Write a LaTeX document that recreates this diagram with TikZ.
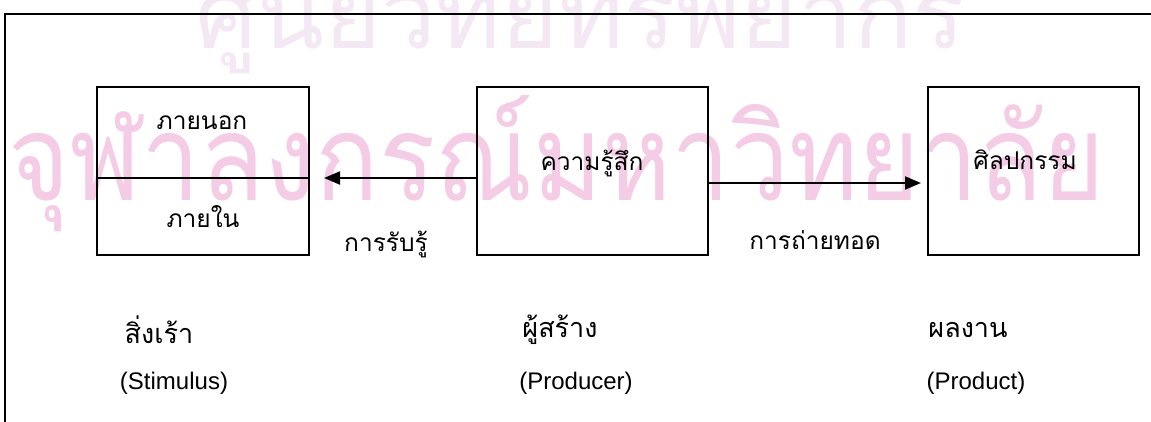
\documentclass[tikz,border=0pt]{standalone}
\usepackage{fontspec}
\usepackage{graphicx}
\setmainfont{Liberation Sans}
\newfontfamily\thai[Script=Thai]{Loma}
\usetikzlibrary{arrows.meta}
\definecolor{wmpink}{RGB}{244,204,230}
\definecolor{wmlight}{RGB}{245,232,245}
\tikzset{
  box/.style={draw, line width=2pt, minimum height=168pt, inner sep=0pt},
  arr/.style={line width=2pt, -{Triangle[length=16pt,width=13pt]}},
  lbl/.style={inner sep=0pt, font=\thai\fontsize{24.5}{24.5}\selectfont},
  th/.style={inner sep=0pt, font=\thai\fontsize{27}{27}\selectfont},
  en/.style={inner sep=0pt, font=\fontsize{24}{24}\selectfont},
  wm/.style={inner sep=0pt, anchor=base west}
}
\begin{document}
\begin{tikzpicture}[x=1pt,y=-1pt]
\useasboundingbox (0,0) rectangle (1151,421);
\clip (0,0) rectangle (1151,421);
% watermark
\node[wm, text=wmlight] (wmtop) at (195,48) {\resizebox{770pt}{85pt}{\thai ศูนย์วิทยทรัพยากร}};
\node[wm, text=wmpink] (wmmid) at (8,200) {\resizebox{1095pt}{105pt}{\thai จุฬาลงกรณ์มหาวิทยาลัย}};
% frame
\draw[line width=2.5pt] (1160,14) -- (5,14) -- (5,430);
% boxes
\node[box, minimum width=212pt] (L) at (203,171) {};
\node[lbl] (Lout) at (202,123) {ภายนอก};
\node[lbl] (Lin) at (203,217) {ภายใน};
\draw[line width=2pt] ([yshift=-7pt]L.west) -- ([yshift=-7pt]L.east);
\node[box, minimum width=231pt] (M) at (592.5,171) {};
\node[lbl] (Mtxt) at (592,163) {ความรู้สึก};
\node[box, minimum width=211pt] (R) at (1033.5,171) {};
\node[lbl] (Rtxt) at (1025,160) {ศิลปกรรม};
% arrows
\draw[arr] ([yshift=-7pt]M.west) -- ([xshift=14pt,yshift=-7pt]L.east);
\draw[arr] ([yshift=-12pt]M.east) -- ([xshift=-6pt,yshift=-12pt]R.west);
\node[lbl] (perc) at (386,244) {การรับรู้};
\node[lbl] (trans) at (815,240) {การถ่ายทอด};
% bottom labels
\node[th] (s1) at (159,330) {สิ่งเร้า};
\node[en] (s2) at (174,383) {(Stimulus)};
\node[th] (p1) at (560,330) {ผู้สร้าง};
\node[en] (p2) at (576,383) {(Producer)};
\node[th] (r1) at (968,330) {ผลงาน};
\node[en] (r2) at (976,383) {(Product)};
\end{tikzpicture}
\end{document}
